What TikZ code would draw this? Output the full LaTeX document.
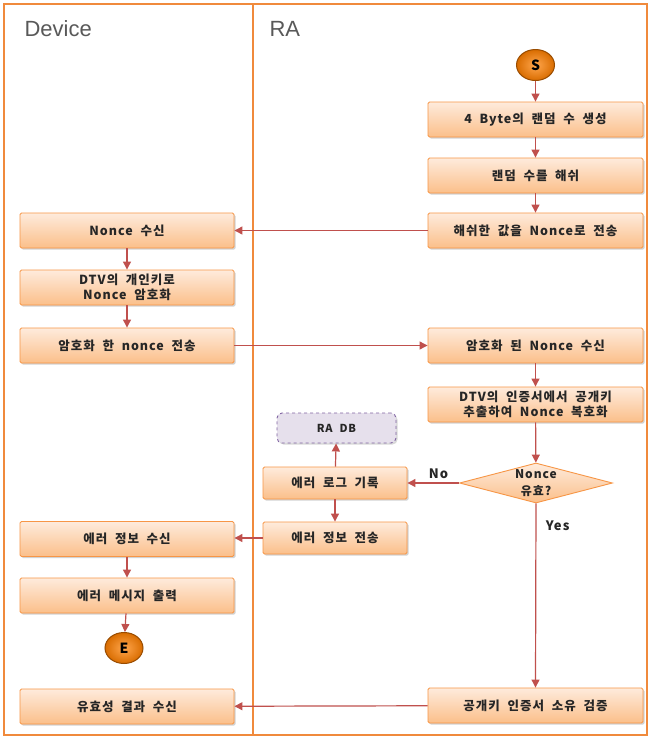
\documentclass[tikz,border=0pt]{standalone}
\usepackage{fontspec}
\setmainfont{Liberation Sans}
\newfontfamily\kr{Noto Sans CJK KR}[LetterSpace=8,WordSpace=2]
\usetikzlibrary{shapes.geometric,shadows,arrows.meta}
\definecolor{boxtop}{HTML}{FEEBDC}
\definecolor{boxbot}{HTML}{FBBF8A}
\definecolor{boxline}{HTML}{F79646}
\definecolor{arr}{HTML}{C0504D}
\definecolor{lane}{HTML}{F08A3C}
\definecolor{dbfill}{HTML}{E6E0EC}
\definecolor{dbline}{HTML}{8064A2}
\definecolor{hdr}{HTML}{595959}
\tikzset{
  flowbox/.style={draw=boxline, line width=0.9pt, top color=boxtop, bottom color=boxbot,
    rounded corners=1.5pt, minimum width=215pt, minimum height=35pt, inner sep=1pt,
    align=center, font=\kr\bfseries\fontsize{12.5}{15.5}\selectfont, text=black!85,
    drop shadow={shadow xshift=1.5pt, shadow yshift=-1.5pt, opacity=0.35}},
  midbox/.style={flowbox, minimum width=144pt, minimum height=32pt},
  endpt/.style={ellipse, draw=orange!60!black, line width=1pt, inner color=orange!70, outer color=orange!85!black,
    minimum width=38pt, minimum height=31pt, inner sep=0pt, font=\kr\bfseries\fontsize{14}{16}\selectfont},
  flow/.style={draw=arr, line width=1.2pt, -{Triangle[length=8pt,width=8pt]}},
  lbl/.style={font=\kr\bfseries\fontsize{13}{15}\selectfont, text=black!85}
}
\begin{document}
\begin{tikzpicture}[x=1pt,y=-1pt]
\useasboundingbox (0,0) rectangle (650,740);
\fill[white] (0,0) rectangle (650,740);
% lanes
\draw[lane, line width=1.6pt] (4,4) rectangle (647,735);
\draw[lane, line width=1.6pt] (253,4) -- (253,735);
\node[anchor=west, font=\fontsize{22}{24}\selectfont, text=hdr] (hdev) at (21,29) {Device};
\node[anchor=west, font=\fontsize{22}{24}\selectfont, text=hdr] (hra) at (266,29) {RA};
% RA column
\node[endpt] (S) at (535.5,65) {S};
\node[flowbox] (r1) at (535.5,119.5) {4 Byte의 랜덤 수 생성};
\node[flowbox] (r2) at (535.5,175.5) {랜덤 수를 해쉬};
\node[flowbox] (r3) at (535.5,230.5) {해쉬한 값을 Nonce로 전송};
\node[flowbox] (r4) at (535.5,345.5) {암호화 된 Nonce 수신};
\node[flowbox] (r5) at (535.5,404.5) {DTV의 인증서에서 공개키\\추출하여 Nonce 복호화};
\node[diamond, draw=boxline, line width=0.9pt, top color=boxtop, bottom color=boxbot,
  minimum width=153pt, minimum height=40pt, aspect=3.8, inner sep=0pt] (dec) at (536,483) {};
\node[align=center, font=\kr\bfseries\fontsize{12}{17}\selectfont, text=black!85] (dect) at (dec.center) {Nonce\\유효?};
\node[flowbox] (r6) at (535.5,705.5) {공개키 인증서 소유 검증};
% middle
\node[draw=dbline, dashed, line width=0.9pt, fill=dbfill, rounded corners=5pt,
  minimum width=119pt, minimum height=30pt, font=\kr\bfseries\fontsize{11}{13}\selectfont, text=black!85,
  drop shadow={shadow xshift=1.5pt, shadow yshift=-1.5pt, opacity=0.3}] (db) at (336.5,428) {RA DB};
\node[midbox] (log) at (335,483) {에러 로그 기록};
\node[midbox] (es) at (335,538) {에러 정보 전송};
% Device column
\node[flowbox, minimum width=214pt] (d1) at (127,230.5) {Nonce 수신};
\node[flowbox, minimum width=214pt] (d2) at (127,287.5) {DTV의 개인키로\\Nonce 암호화};
\node[flowbox, minimum width=214pt] (d3) at (127,345.5) {암호화 한 nonce 전송};
\node[flowbox, minimum width=214pt] (d4) at (127,539) {에러 정보 수신};
\node[flowbox, minimum width=214pt] (d5) at (127,595.5) {에러 메시지 출력};
\node[endpt] (E) at (124,648) {E};
\node[flowbox, minimum width=214pt] (d6) at (127,706.5) {유효성 결과 수신};
% connectors
\draw[flow] (S) -- (r1);
\draw[flow] (r1) -- (r2);
\draw[flow] (r2) -- (r3);
\draw[flow] (r3) -- (d1);
\draw[flow] (d1) -- (d2);
\draw[flow] (d2) -- (d3);
\draw[flow] (d3) -- (r4);
\draw[flow] (r4) -- (r5);
\draw[flow] (r5) -- (dec);
\draw[flow] (dec.west) -- node[lbl, above, pos=0.4] (no) {No} (log.east);
\draw[flow] (dec.south) -- node[lbl, right, pos=0.12, xshift=6pt] (yes) {Yes} (r6.north);
\draw[flow] (log) -- (db);
\draw[flow] (log) -- (es);
\draw[flow] (es.west) -- (d4.east |- es.west);
\draw[flow] (d4) -- (d5);
\draw[flow] (d5) -- (E);
\draw[flow] (r6) -- (d6);
\end{tikzpicture}
\end{document}
